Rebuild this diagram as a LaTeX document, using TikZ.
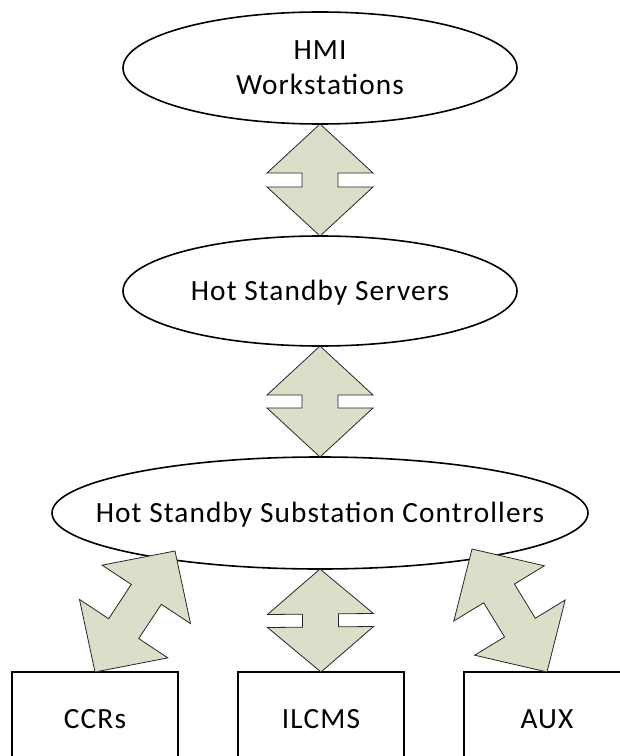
\documentclass[tikz,border=0pt]{standalone}
\usepackage{fontspec}
\setmainfont[LetterSpace=3.8]{Carlito}
\usetikzlibrary{shapes.geometric,calc}

\definecolor{arrowfill}{RGB}{219,222,200}

% half widths of the heads and of the shaft of a two-way block arrow
\newcommand\headw{39.75pt}
\newcommand\shaftw{13.5pt}

% \dblarrow{name}{from}{to}{head length}: block arrow pointing both ways
\newcommand\dblarrow[4]{%
  \coordinate (#1a) at ($(#2)!#4!(#3)$);
  \coordinate (#1b) at ($(#3)!#4!(#2)$);
  \filldraw[twoway]
    (#2) -- ($(#1a)!\headw!90:(#3)$) -- ($(#1a)!\shaftw!90:(#3)$)
    -- ($(#1b)!\shaftw!-90:(#2)$) -- ($(#1b)!\headw!-90:(#2)$)
    -- (#3) -- ($(#1b)!\headw!90:(#2)$) -- ($(#1b)!\shaftw!90:(#2)$)
    -- ($(#1a)!\shaftw!-90:(#3)$) -- ($(#1a)!\headw!-90:(#3)$) -- cycle;
}

\begin{document}
\begin{tikzpicture}[x=0.75pt,y=-0.75pt,
  every node/.style={font=\fontsize{22pt}{26.25pt}\selectfont,
    inner sep=0pt, outer sep=0pt},
  oval/.style={ellipse, draw, line width=1.2pt, fill=white},
  unit/.style={rectangle, draw, line width=1.2pt,
    minimum width=124.5pt, minimum height=70.5pt},
  capline/.style={text height=14pt, text depth=0pt},
  twoway/.style={fill=arrowfill, draw=black!85, line width=0.6pt,
    line join=miter}]

\path[use as bounding box] (0,0) rectangle (620,756);
\clip (0,0) rectangle (620,756);

% tiers
\node[oval, align=center, minimum width=295.5pt, minimum height=84pt]
  (hmi) at (320,68) {HMI\\Workstations};
\node[oval, capline, minimum width=295.5pt, minimum height=82.5pt]
  (srv) at (320,291) {Hot Standby Servers};
\node[oval, capline, minimum width=402pt, minimum height=84pt]
  (sub) at (320,513) {\makebox[0pt]{Hot Standby Substation Controllers}};

\node[unit, capline] (ccr) at (95,719) {CCRs};
\node[unit, capline] (ilc) at (321,719) {ILCMS};
\node[unit, capline] (aux) at (547,719) {AUX};

% inner ends of the slanted links
\coordinate (ltip) at (175,551);
\coordinate (rtip) at (472,549);

% links
\dblarrow{a1}{hmi.south}{srv.north}{36.75pt}
\dblarrow{a2}{srv.south}{sub.north}{36.75pt}
\dblarrow{a3}{sub.south}{ilc.north}{33.75pt}
\dblarrow{d1}{ccr.north}{ltip}{39pt}
\dblarrow{d2}{aux.north}{rtip}{39pt}

\end{tikzpicture}
\end{document}
